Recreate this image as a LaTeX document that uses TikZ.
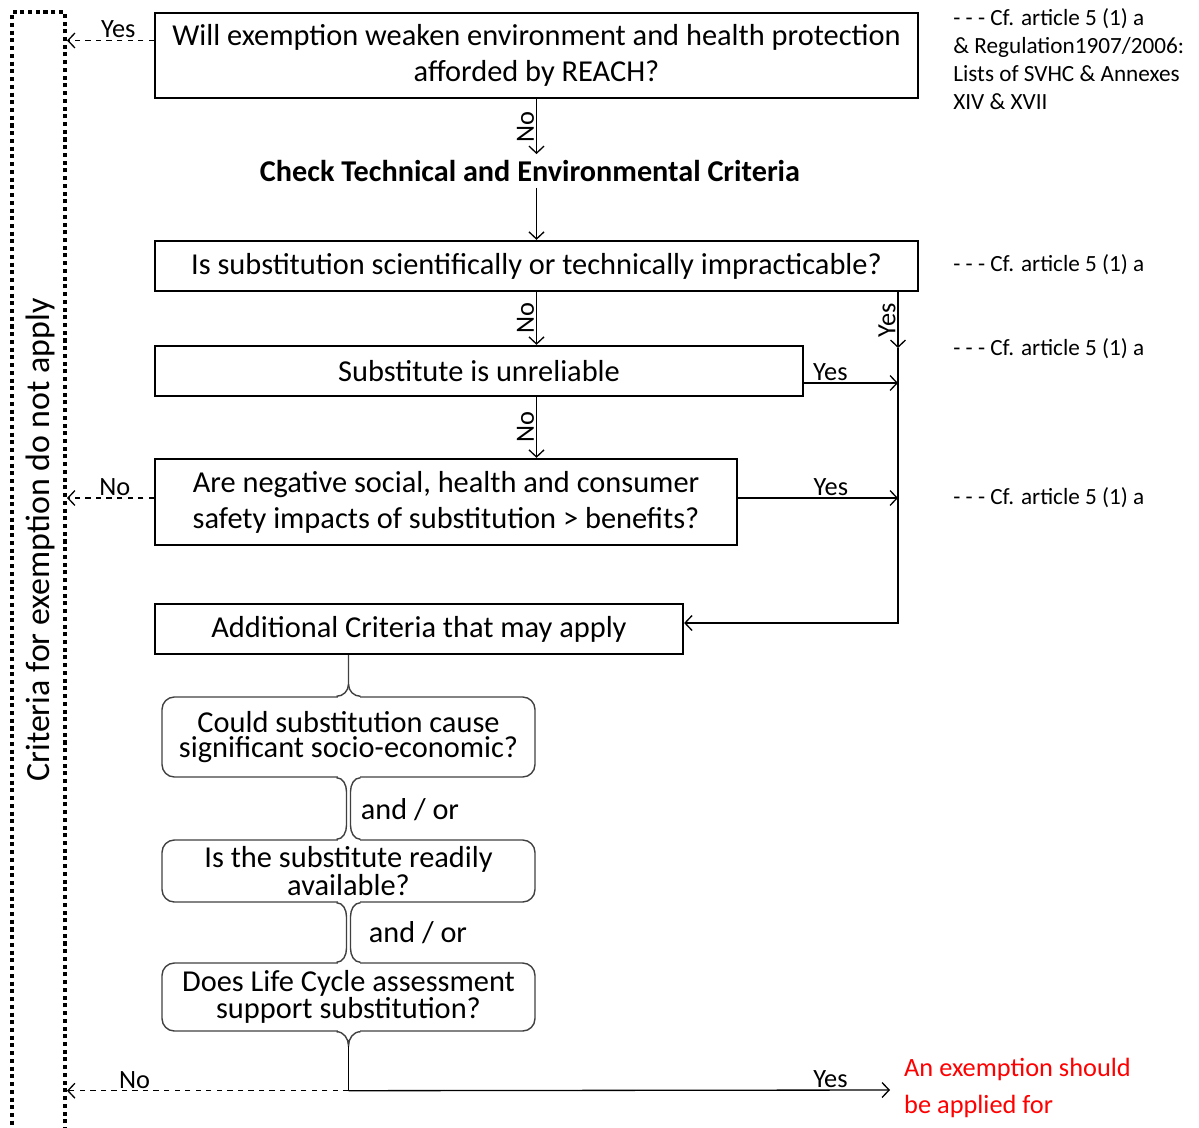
\documentclass[tikz,border=0pt]{standalone}
\usepackage{fontspec}
\setmainfont{Carlito}
\usetikzlibrary{calc, positioning, arrows.meta}

\begin{document}
\begin{tikzpicture}[x=0.02cm, y=-0.02cm, > = {Straight Barb[length=4pt,width=8.5pt]},
    qbox/.style={draw, line width=1.3pt, inner sep=0pt, align=center, font=\fontsize{17.3}{20.4}\selectfont},
    cbox/.style={draw=black!75, line width=0.8pt, rounded corners=7pt, inner sep=0pt, align=center, minimum width=7.46cm, font=\fontsize{17.3}{14}\selectfont},
    cline/.style={draw=black!75, line width=0.8pt},
    flow/.style={->, line width=0.75pt},
    back/.style={->, line width=0.75pt, dashed},
    lbl/.style={font=\fontsize{15}{17}\selectfont, inner sep=1pt},
    refnote/.style={font=\fontsize{13.2}{15.9}\selectfont, align=left, anchor=west, inner sep=0pt}]
    \def\edgegap#1{\fill[white] ($(#1)+(-11,-1.5)$) rectangle ($(#1)+(11,1.5)$);}
    \useasboundingbox (0,0) rectangle (1199,1128);

    % left bar
    \node[draw, line width=2.3pt, dash pattern=on 2.3pt off 2.1pt, minimum width=1.06cm, minimum height=22.56cm, inner sep=0pt] (na) at (38.5,576) {};
    \node[rotate=90, font=\fontsize{19.3}{22}\selectfont] (nalbl) at (40,540) {Criteria for exemption do not apply};

    \node[qbox, minimum width=15.26cm, minimum height=1.7cm] (q1) at (536.5,55.5) {Will exemption weaken environment and health protection\\afforded by REACH?};
    \node[font=\fontsize{17.2}{20}\selectfont\bfseries] (check) at (530,171) {Check Technical and Environmental Criteria};
    \node[qbox, minimum width=15.26cm, minimum height=1cm] (q2) at (536.5,266) {Is substitution scientifically or technically impracticable?};
    \node[qbox, minimum width=12.96cm, minimum height=1cm] (q3) at (479,371) {Substitute is unreliable};
    \node[qbox, minimum width=11.64cm, minimum height=1.72cm] (q4) at (446,502) {Are negative social, health and consumer\\safety impacts of substitution > benefits?};
    \node[qbox, minimum width=10.56cm, minimum height=1cm] (q5) at (419,629) {Additional Criteria that may apply};

    \node[cbox, minimum height=1.6cm] (c1) at (348.5,737) {Could substitution cause\\significant socio-economic?};
    \node[cbox, minimum height=1.24cm] (c2) at (348.5,871) {Is the substitute readily\\available?};
    \node[cbox, minimum height=1.36cm] (c3) at (348.5,997) {Does Life Cycle assessment\\support substitution?};
    \node[font=\fontsize{17.2}{20}\selectfont] (ao1) at (410,810) {and / or};
    \node[font=\fontsize{17.2}{20}\selectfont] (ao2) at (418,933) {and / or};

    \node[refnote, anchor=north west] (ref1) at (953,8) {- - - Cf. article 5 (1) a\\\& Regulation1907/2006:\\Lists of SVHC \& Annexes\\XIV \& XVII};
    \node[refnote] (ref2) at (953,265) {- - - Cf. article 5 (1) a};
    \node[refnote] (ref3) at (953,349) {- - - Cf. article 5 (1) a};
    \node[refnote] (ref4) at (953,498) {- - - Cf. article 5 (1) a};

    % main column
    \draw[back] ($(q1.west)+(0,-15)$) -- node[lbl, above, pos=0.41] {Yes} ($(q1.west -| na.east)+(0,-15)$);
    \draw[flow] (q1.south) -- node[lbl, rotate=90, anchor=south] {No} (q1.south |- check.north);
    \draw[flow] (q2.north |- check.south) -- (q2.north);
    \draw[flow] (q2.south) -- node[lbl, rotate=90, anchor=south] {No} (q2.south |- q3.north);
    \draw[flow] (q2.south |- q3.south) -- node[lbl, rotate=90, anchor=south] {No} (q2.south |- q4.north);
    \draw[back] ($(q4.west)+(0,-4)$) -- node[lbl, above, pos=0.45] {No} ($(q4.west -| na.east)+(0,-4)$);

    % yes branch
    \coordinate (rx) at (898,348);
    \draw[flow] (q2.south -| rx) -- node[lbl, rotate=90, anchor=south] {Yes} (rx);
    \draw[flow] ($(q3.east)+(0,12)$) -- node[lbl, above, pos=0.28] {Yes} ($(q3.east -| rx)+(0,12)$);
    \draw[flow] ($(q4.east)+(0,-4)$) -- node[lbl, above, pos=0.58] {Yes} ($(q4.east -| rx)+(0,-4)$);
    \draw[flow] (rx) |- ($(q5.east)+(0,-6)$);

    % braces between the extra criteria
    \edgegap{c1.north}
    \draw[cline] (c1.north |- q5.south) -- ($(c1.north)+(0,-12)$) to[out=-90, in=0] ($(c1.north)+(-12,0)$);
    \draw[cline] ($(c1.north)+(0,-12)$) to[out=-90, in=180] ($(c1.north)+(12,0)$);
    \edgegap{c1.south} \edgegap{c2.north}
    \draw[cline] ($(c1.south)+(-12,0)$) to[out=0, in=90] ($(c1.south)+(-2,14)$) -- ($(c2.north)+(-2,-14)$) to[out=-90, in=0] ($(c2.north)+(-12,0)$);
    \draw[cline] ($(c1.south)+(12,0)$) to[out=180, in=90] ($(c1.south)+(2,14)$) -- ($(c2.north)+(2,-14)$) to[out=-90, in=180] ($(c2.north)+(12,0)$);
    \edgegap{c2.south} \edgegap{c3.north}
    \draw[cline] ($(c2.south)+(-12,0)$) to[out=0, in=90] ($(c2.south)+(-2,14)$) -- ($(c3.north)+(-2,-14)$) to[out=-90, in=0] ($(c3.north)+(-12,0)$);
    \draw[cline] ($(c2.south)+(12,0)$) to[out=180, in=90] ($(c2.south)+(2,14)$) -- ($(c3.north)+(2,-14)$) to[out=-90, in=180] ($(c3.north)+(12,0)$);
    \edgegap{c3.south}
    \draw[cline] ($(c3.south)+(-12,0)$) to[out=0, in=90] ($(c3.south)+(0,14)$) to[out=90, in=180] ($(c3.south)+(12,0)$);

    % outcome
    \coordinate (split) at ($(c3.south)+(0,59)$);
    \coordinate (yes) at (890,1090);
    \draw[line width=0.75pt] ($(c3.south)+(0,14)$) -- (split);
    \draw[back] (split) -- node[lbl, above, pos=0.76] {No} (split -| na.east);
    \draw[flow] (split) -- node[lbl, above, pos=0.89] {Yes} (yes);
    \node[anchor=west, text=red, align=left, font=\fontsize{15}{21}\selectfont] (result) at (898,1088) {An exemption should\\be applied for};
\end{tikzpicture}
\end{document}
